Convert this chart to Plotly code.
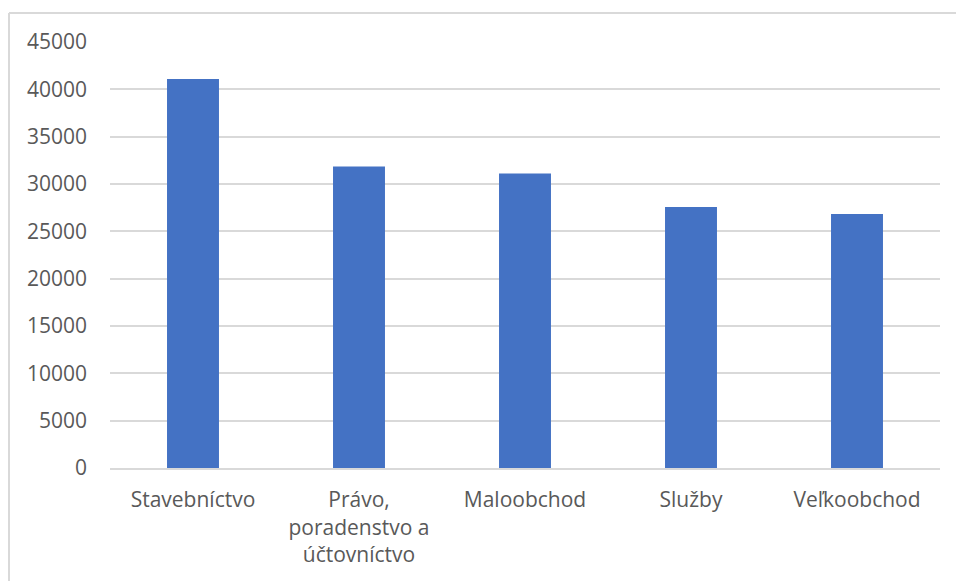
import plotly.graph_objects as go

categories = ["Stavebníctvo", "Právo,<br>poradenstvo a<br>účtovníctvo", "Maloobchod", "Služby", "Veľkoobchod"]
values = [41100, 31860, 31120, 27560, 26820]
y_ticks = [0, 5000, 10000, 15000, 20000, 25000, 30000, 35000, 40000, 45000]

font_family = "Open Sans"
text_color = "#595959"
grid_color = "#d9d9d9"

fig = go.Figure(go.Bar(
    x=categories,
    y=values,
    marker=dict(color="#4472C4", line=dict(width=0)),
))

fig.update_layout(
    width=956,
    height=581,
    margin=dict(l=110, r=16, t=42, b=113),
    paper_bgcolor="white",
    plot_bgcolor="white",
    bargap=0.687,
    showlegend=False,
    font=dict(family=font_family, size=21, color=text_color),
    shapes=[
        dict(type="line", xref="paper", yref="paper",
             x0=-101 / 830, x1=1.1, y0=1 + 29 / 426, y1=1 + 29 / 426,
             line=dict(color=grid_color, width=2)),
        dict(type="line", xref="paper", yref="paper",
             x0=-101 / 830, x1=-101 / 830, y0=1 + 29 / 426, y1=-0.5,
             line=dict(color=grid_color, width=2)),
    ],
)

fig.update_xaxes(
    showgrid=False,
    showline=True,
    linecolor=grid_color,
    linewidth=2,
    ticks="",
    tickfont=dict(family=font_family, size=21, color=text_color),
    ticklabelstandoff=12,
)
fig.update_yaxes(
    range=[0, 45000],
    tickvals=y_ticks,
    ticktext=[str(v) for v in y_ticks],
    showgrid=True,
    gridcolor=grid_color,
    gridwidth=2,
    zeroline=False,
    showline=False,
    ticks="",
    tickfont=dict(family=font_family, size=21, color=text_color),
    ticklabelstandoff=22,
)

fig.write_html("out.html")
